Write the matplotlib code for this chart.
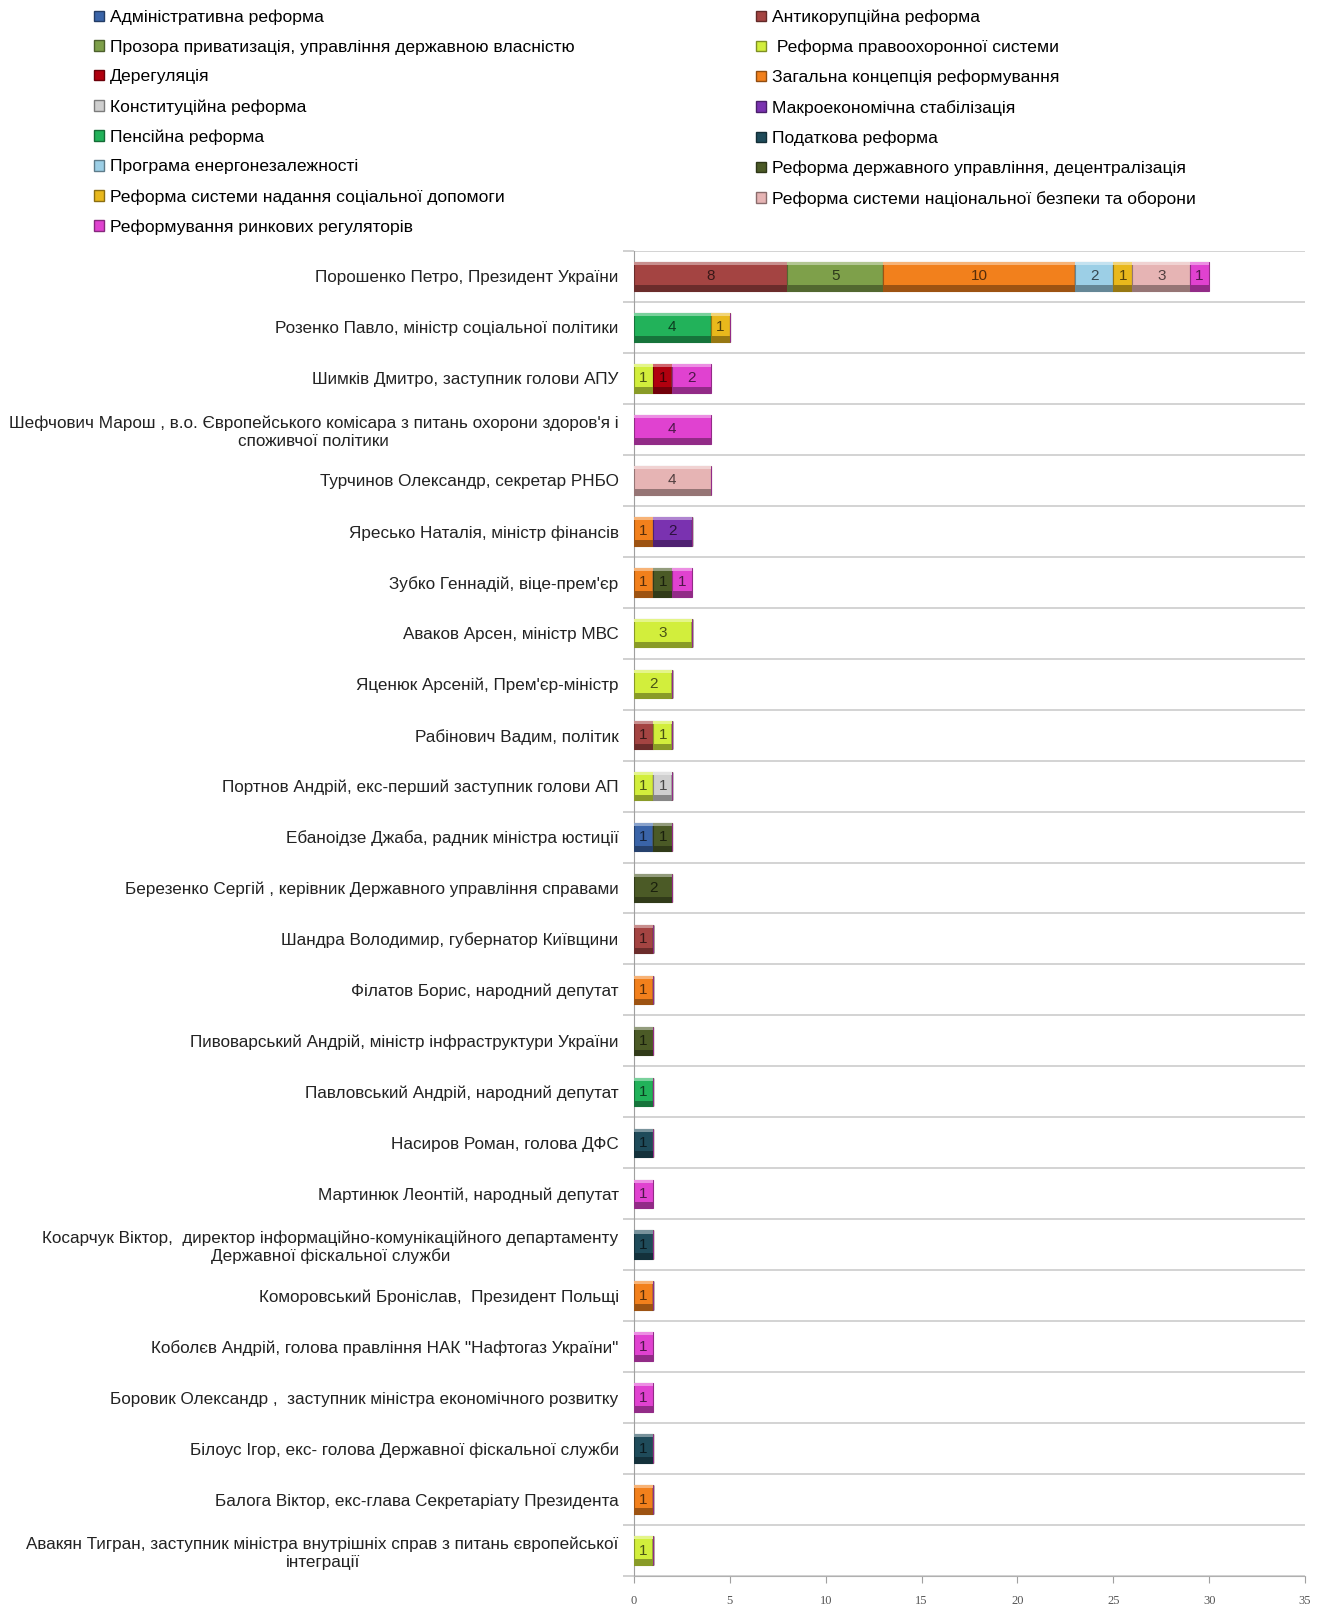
import numpy as np
import matplotlib
matplotlib.use("Agg")
from matplotlib import pyplot as plt
from matplotlib.patches import Patch
from matplotlib.colors import to_rgb

plt.rcParams['font.family'] = ['Liberation Sans', 'DejaVu Sans']

people = [
    "Порошенко Петро, Президент України",
    "Розенко Павло, міністр соціальної політики",
    "Шимків Дмитро, заступник голови АПУ",
    "Шефчович Марош , в.о. Європейського комісара з питань охорони здоров'я і\nспоживчої політики",
    "Турчинов Олександр, секретар РНБО",
    "Яресько Наталія, міністр фінансів",
    "Зубко Геннадій, віце-прем'єр",
    "Аваков Арсен, міністр МВС",
    "Яценюк Арсеній, Прем'єр-міністр",
    "Рабінович Вадим, політик",
    "Портнов Андрій, екс-перший заступник голови АП",
    "Ебаноідзе Джаба, радник міністра юстиції",
    "Березенко Сергій , керівник Державного управління справами",
    "Шандра Володимир, губернатор Київщини",
    "Філатов Борис, народний депутат",
    "Пивоварський Андрій, міністр інфраструктури України",
    "Павловський Андрій, народний депутат",
    "Насиров Роман, голова ДФС",
    "Мартинюк Леонтій, народный депутат",
    "Косарчук Віктор,  директор інформаційно-комунікаційного департаменту\nДержавної фіскальної служби",
    "Коморовський Броніслав,  Президент Польщі",
    "Коболєв Андрій, голова правління НАК \"Нафтогаз України\"",
    "Боровик Олександр ,  заступник міністра економічного розвитку",
    "Білоус Ігор, екс- голова Державної фіскальної служби",
    "Балога Віктор, екс-глава Секретаріату Президента",
    "Авакян Тигран, заступник міністра внутрішніх справ з питань європейської\nінтеграції",
]

series_names = [
    "Адміністративна реформа",
    "Антикорупційна реформа",
    "Прозора приватизація, управління державною власністю",
    " Реформа правоохоронної системи",
    "Дерегуляція",
    "Загальна концепція реформування",
    "Конституційна реформа",
    "Макроекономічна стабілізація",
    "Пенсійна реформа",
    "Податкова реформа",
    "Програма енергонезалежності",
    "Реформа державного управління, децентралізація",
    "Реформа системи надання соціальної допомоги",
    "Реформа системи національної безпеки та оборони",
    "Реформування ринкових регуляторів",
]

#            0  1  2  3  4  5  6  7  8  9 10 11 12 13 14 15 16 17 18 19 20 21 22 23 24 25
admin    = [0, 0, 0, 0, 0, 0, 0, 0, 0, 0, 0, 1, 0, 0, 0, 0, 0, 0, 0, 0, 0, 0, 0, 0, 0, 0]
anticor  = [8, 0, 0, 0, 0, 0, 0, 0, 0, 1, 0, 0, 0, 1, 0, 0, 0, 0, 0, 0, 0, 0, 0, 0, 0, 0]
privat   = [5, 0, 0, 0, 0, 0, 0, 0, 0, 0, 0, 0, 0, 0, 0, 0, 0, 0, 0, 0, 0, 0, 0, 0, 0, 0]
police   = [0, 0, 1, 0, 0, 0, 0, 3, 2, 1, 1, 0, 0, 0, 0, 0, 0, 0, 0, 0, 0, 0, 0, 0, 0, 1]
dereg    = [0, 0, 1, 0, 0, 0, 0, 0, 0, 0, 0, 0, 0, 0, 0, 0, 0, 0, 0, 0, 0, 0, 0, 0, 0, 0]
concept  = [10, 0, 0, 0, 0, 1, 1, 0, 0, 0, 0, 0, 0, 0, 1, 0, 0, 0, 0, 0, 1, 0, 0, 0, 1, 0]
constit  = [0, 0, 0, 0, 0, 0, 0, 0, 0, 0, 1, 0, 0, 0, 0, 0, 0, 0, 0, 0, 0, 0, 0, 0, 0, 0]
macro    = [0, 0, 0, 0, 0, 2, 0, 0, 0, 0, 0, 0, 0, 0, 0, 0, 0, 0, 0, 0, 0, 0, 0, 0, 0, 0]
pension  = [0, 4, 0, 0, 0, 0, 0, 0, 0, 0, 0, 0, 0, 0, 0, 0, 1, 0, 0, 0, 0, 0, 0, 0, 0, 0]
tax      = [0, 0, 0, 0, 0, 0, 0, 0, 0, 0, 0, 0, 0, 0, 0, 0, 0, 1, 0, 1, 0, 0, 0, 1, 0, 0]
energy   = [2, 0, 0, 0, 0, 0, 0, 0, 0, 0, 0, 0, 0, 0, 0, 0, 0, 0, 0, 0, 0, 0, 0, 0, 0, 0]
govern   = [0, 0, 0, 0, 0, 0, 1, 0, 0, 0, 0, 1, 2, 0, 0, 1, 0, 0, 0, 0, 0, 0, 0, 0, 0, 0]
social   = [1, 1, 0, 0, 0, 0, 0, 0, 0, 0, 0, 0, 0, 0, 0, 0, 0, 0, 0, 0, 0, 0, 0, 0, 0, 0]
security = [3, 0, 0, 0, 4, 0, 0, 0, 0, 0, 0, 0, 0, 0, 0, 0, 0, 0, 0, 0, 0, 0, 0, 0, 0, 0]
markets  = [1, 0, 2, 4, 0, 0, 1, 0, 0, 0, 0, 0, 0, 0, 0, 0, 0, 0, 1, 0, 0, 1, 1, 0, 0, 0]

series_values = [admin, anticor, privat, police, dereg, concept, constit, macro,
                 pension, tax, energy, govern, social, security, markets]

colors = ["#3a64a8", "#a44442", "#7ea04a", "#d2ee3c", "#b0000f", "#f2801c",
          "#cfcfcf", "#7a32b0", "#22b25a", "#1f4b5a", "#9ccfe6", "#4b5a26",
          "#e8b81c", "#e6b4b4", "#e042d0"]

fig = plt.figure(figsize=(13.23, 16.05), dpi=100)
ax = fig.add_axes([634 / 1323, 1 - 1576 / 1605, (1305 - 634) / 1323, (1576 - 251) / 1605])

y = np.arange(len(people))
h = 0.56
left = np.zeros(len(people))
for name, vals, col in zip(series_names, series_values, colors):
    vals = np.array(vals, dtype=float)
    rgb = np.array(to_rgb(col))
    dark = rgb * 0.65
    light = 1 - (1 - rgb) * 0.6
    ax.barh(y, vals, left=left, height=h, color=col, edgecolor=dark, linewidth=0.8, zorder=3)
    # bevel look: darker strip at the bottom, lighter at top
    ax.barh(y + h / 2 - 0.055, vals, left=left, height=0.11, color=dark, linewidth=0, zorder=4)
    ax.barh(y - h / 2 + 0.03, vals, left=left, height=0.06, color=light, linewidth=0, zorder=4)
    for i in range(len(people)):
        if vals[i] > 0:
            ax.text(left[i] + vals[i] / 2, y[i], f"{int(vals[i])}", ha='center', va='center',
                    fontsize=11, color=rgb * 0.35, zorder=5)
    left += vals

ax.set_xlim(0, 35)
ax.set_ylim(len(people) - 0.5, -0.5)
ax.set_xticks(np.arange(0, 36, 5))
ax.set_xticklabels([str(v) for v in range(0, 36, 5)], family='Liberation Serif', fontsize=9, color='#555555')
ax.tick_params(axis='x', direction='out', length=5, color='#a0a0a0', pad=9)

ax.set_yticks(y)
ax.set_yticklabels(people, fontsize=12.3, color='#222222')
for lab in ax.get_yticklabels():
    lab.set_multialignment('center')
ax.tick_params(axis='y', which='major', length=0, pad=11)
ax.set_yticks(np.arange(-0.5, len(people)), minor=True)
ax.tick_params(axis='y', which='minor', length=8, color='#c8c8c8', width=1.2)
ax.grid(axis='y', which='minor', color='#d0d0d0', linewidth=1.3, zorder=0)

for s in ['top', 'right']:
    ax.spines[s].set_visible(False)
ax.spines['left'].set_color('#a0a0a0')
ax.spines['bottom'].set_color('#b0b0b0')

handles = [Patch(facecolor=c, edgecolor=np.array(to_rgb(c)) * 0.6, label=n)
           for n, c in zip(series_names, colors)]
leg_kw = dict(loc='upper left', frameon=False, fontsize=12.6, handlelength=0.55, handleheight=0.55,
              handletextpad=0.35, labelspacing=0.84, borderpad=0, borderaxespad=0)
fig.legend(handles=handles[0::2], bbox_to_anchor=(94 / 1323, 1 - 9.5 / 1605), **leg_kw)
fig.legend(handles=handles[1::2], bbox_to_anchor=(756 / 1323, 1 - 9.5 / 1605), **leg_kw)

fig.savefig("out.png", dpi=100)
